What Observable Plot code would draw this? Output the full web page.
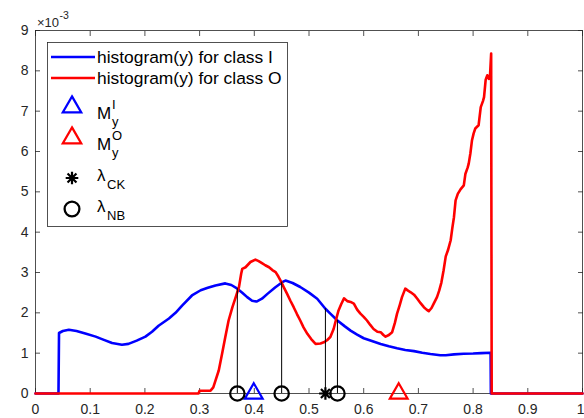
<!DOCTYPE html>
<html>
<head>
<meta charset="utf-8">
<script src="https://cdn.jsdelivr.net/npm/d3@7"></script>
<script src="https://cdn.jsdelivr.net/npm/@observablehq/plot@0.6"></script>
<style>
  html, body { margin: 0; padding: 0; background: white; }
  #chart { width: 584px; height: 418px; }
</style>
</head>
<body>
<div id="chart"></div>
<script>
// ---- data (y in units of 1e-3) ----
const xTicks = [0, 0.1, 0.2, 0.3, 0.4, 0.5, 0.6, 0.7, 0.8, 0.9, 1];
const xTickLabels = ["0", "0.1", "0.2", "0.3", "0.4", "0.5", "0.6", "0.7", "0.8", "0.9", "1"];
const yTicks = [0, 1, 2, 3, 4, 5, 6, 7, 8, 9];
const yTickLabels = ["0", "1", "2", "3", "4", "5", "6", "7", "8", "9"];

const blueX = [0, 0.042, 0.043, 0.05, 0.061, 0.075, 0.091, 0.110, 0.125, 0.140, 0.158, 0.170, 0.185, 0.201, 0.213, 0.225, 0.244, 0.256, 0.268, 0.286, 0.302, 0.315, 0.329, 0.347, 0.358, 0.369, 0.378, 0.387, 0.396, 0.404, 0.414, 0.424, 0.438, 0.451, 0.457, 0.470, 0.484, 0.500, 0.515, 0.530, 0.539, 0.552, 0.565, 0.576, 0.588, 0.600, 0.615, 0.631, 0.646, 0.661, 0.676, 0.692, 0.707, 0.722, 0.740, 0.750, 0.765, 0.783, 0.800, 0.815, 0.832, 0.8325, 1.0];
const blueY = [0, 0, 1.50, 1.55, 1.58, 1.55, 1.49, 1.41, 1.33, 1.25, 1.21, 1.23, 1.31, 1.41, 1.53, 1.68, 1.86, 2.00, 2.18, 2.43, 2.56, 2.62, 2.68, 2.73, 2.69, 2.60, 2.50, 2.39, 2.30, 2.28, 2.35, 2.47, 2.63, 2.76, 2.80, 2.74, 2.64, 2.50, 2.35, 2.10, 1.98, 1.81, 1.67, 1.56, 1.46, 1.37, 1.30, 1.23, 1.17, 1.12, 1.08, 1.05, 1.01, 0.98, 0.95, 0.95, 0.97, 0.985, 0.99, 1.00, 1.01, 0, 0];

const redX = [0, 0.298, 0.300, 0.320, 0.325, 0.329, 0.335, 0.341, 0.347, 0.353, 0.360, 0.366, 0.372, 0.376, 0.378, 0.384, 0.393, 0.402, 0.408, 0.414, 0.420, 0.427, 0.433, 0.439, 0.444, 0.448, 0.454, 0.460, 0.466, 0.472, 0.478, 0.484, 0.490, 0.497, 0.504, 0.512, 0.521, 0.527, 0.533, 0.539, 0.545, 0.549, 0.554, 0.559, 0.564, 0.570, 0.576, 0.582, 0.588, 0.594, 0.600, 0.606, 0.612, 0.618, 0.625, 0.631, 0.636, 0.640, 0.646, 0.652, 0.657, 0.661, 0.666, 0.670, 0.676, 0.681, 0.686, 0.692, 0.698, 0.704, 0.710, 0.715, 0.719, 0.724, 0.728, 0.734, 0.738, 0.742, 0.746, 0.750, 0.754, 0.759, 0.762, 0.765, 0.768, 0.772, 0.777, 0.783, 0.786, 0.790, 0.792, 0.795, 0.798, 0.801, 0.804, 0.810, 0.814, 0.818, 0.820, 0.823, 0.826, 0.829, 0.831, 0.833, 0.834, 1.0];
const redY = [0, 0, 0.07, 0.07, 0.15, 0.32, 0.57, 0.98, 1.40, 1.81, 2.14, 2.39, 2.64, 2.97, 3.09, 3.13, 3.26, 3.32, 3.28, 3.23, 3.18, 3.13, 3.06, 3.01, 2.90, 2.80, 2.63, 2.47, 2.30, 2.14, 1.97, 1.81, 1.64, 1.48, 1.35, 1.23, 1.24, 1.27, 1.32, 1.40, 1.60, 1.81, 2.06, 2.22, 2.36, 2.29, 2.27, 2.23, 2.08, 1.98, 1.90, 1.81, 1.70, 1.60, 1.53, 1.52, 1.45, 1.41, 1.45, 1.52, 1.75, 1.98, 2.20, 2.39, 2.60, 2.55, 2.51, 2.45, 2.35, 2.24, 2.14, 2.08, 2.04, 2.12, 2.23, 2.39, 2.55, 2.75, 3.05, 3.40, 3.55, 3.80, 4.10, 4.37, 4.79, 4.95, 5.06, 5.16, 5.45, 5.60, 5.70, 5.95, 6.28, 6.45, 6.57, 6.65, 7.10, 7.25, 7.35, 7.78, 7.89, 7.80, 7.90, 8.43, 0, 0];

const meanI = [0.399];      // M_y^I
const meanO = [0.664];      // M_y^O
const lambdaCK = [0.530];
const lambdaNB = [0.369, 0.450, 0.552];
const stemX = [0.369, 0.450, 0.530, 0.552];
const stemTop = [2.60, 2.76, 2.10, 1.81];

const legendLabels = ["histogram(y) for class I", "histogram(y) for class O"];

// ---- build tables ----
const blue = blueX.map((x, i) => ({x, y: blueY[i]}));
const red = redX.map((x, i) => ({x, y: redY[i]}));
const stems = stemX.map((x, i) => ({x, top: stemTop[i]}));
const xLab = xTicks.map((x, i) => ({x, t: xTickLabels[i]}));

const asterisk = {
  draw(context, size) {
    const r = Math.sqrt(size / Math.PI);
    const d = r * Math.SQRT1_2;
    context.moveTo(-r, 0); context.lineTo(r, 0);
    context.moveTo(0, -r); context.lineTo(0, r);
    context.moveTo(-d, -d); context.lineTo(d, d);
    context.moveTo(-d, d); context.lineTo(d, -d);
  }
};

const axisColor = "#262626";
const font = "'Liberation Sans', Arial, Helvetica, sans-serif";

const chart = Plot.plot({
  width: 584,
  height: 418,
  marginLeft: 35,
  marginRight: 2,
  marginTop: 30,
  marginBottom: 25,
  style: {fontFamily: font, fontSize: "14px", color: axisColor, background: "white", overflow: "visible"},
  x: {domain: [0, 1], axis: null},
  y: {domain: [0, 9], axis: null},
  marks: [
    Plot.frame({stroke: axisColor, strokeWidth: 0.8}),
    Plot.axisX(xTicks, {anchor: "bottom", tickSize: -5, text: null, label: null, stroke: axisColor, strokeWidth: 0.8}),
    Plot.axisX(xTicks, {anchor: "top", tickSize: -5, text: null, label: null, stroke: axisColor, strokeWidth: 0.8}),
    Plot.axisY(yTicks, {anchor: "left", tickSize: -5, text: null, label: null, stroke: axisColor, strokeWidth: 0.8}),
    Plot.axisY(yTicks, {anchor: "right", tickSize: -5, text: null, label: null, stroke: axisColor, strokeWidth: 0.8}),
    Plot.text(xLab.slice(0, -1), {x: "x", y: 0, text: "t", dy: 16, fill: axisColor, fontSize: 14, textAnchor: "middle"}),
    Plot.text(xLab.slice(-1), {x: "x", y: 0, text: "t", dy: 16, dx: 2, fill: axisColor, fontSize: 14, textAnchor: "end"}),
    Plot.text(yTicks, {x: 0, y: d => d, text: (d, i) => yTickLabels[i], dx: -7, fill: axisColor, fontSize: 14, textAnchor: "end"}),
    Plot.line(blue, {x: "x", y: "y", stroke: "#0000ff", strokeWidth: 2.6}),
    Plot.line(red, {x: "x", y: "y", stroke: "#ff0000", strokeWidth: 2.6}),
    Plot.ruleX(stems, {x: "x", y1: 0, y2: "top", stroke: "black", strokeWidth: 1}),
    Plot.dot(meanI, {x: d => d, y: 0, symbol: "triangle", r: 6.6, stroke: "#0000ff", strokeWidth: 2.2, fill: "none"}),
    Plot.dot(meanO, {x: d => d, y: 0, symbol: "triangle", r: 6.6, stroke: "#ff0000", strokeWidth: 2.2, fill: "none"}),
    Plot.dot(lambdaNB, {x: d => d, y: 0, symbol: "circle", r: 7.2, stroke: "black", strokeWidth: 2.2, fill: "none"}),
    Plot.dot(lambdaCK, {x: d => d, y: 0, symbol: asterisk, r: 6.3, stroke: "black", strokeWidth: 2.2, fill: "none"})
  ]
});

document.getElementById("chart").appendChild(chart);

// ---- exponent label and legend ----
const svg = d3.select(chart);
const ex = svg.append("g").attr("font-family", font).attr("fill", axisColor).attr("text-anchor", "start");
ex.append("text").attr("x", 37).attr("y", 27).attr("font-size", 13).text("\u00d710");
ex.append("text").attr("x", 59.5).attr("y", 19).attr("font-size", 10.5).text("-3");

const lg = svg.append("g").attr("font-family", font).attr("fill", "black").attr("text-anchor", "start");
lg.append("rect").attr("x", 47.5).attr("y", 42.5).attr("width", 240).attr("height", 184)
  .attr("fill", "white").attr("stroke", axisColor).attr("stroke-width", 0.8);
const lineRows = [{y: 57, c: "#0000ff", t: legendLabels[0]}, {y: 78, c: "#ff0000", t: legendLabels[1]}];
lineRows.forEach(r => {
  lg.append("line").attr("x1", 51).attr("x2", 95).attr("y1", r.y).attr("y2", r.y)
    .attr("stroke", r.c).attr("stroke-width", 2.6);
  lg.append("text").attr("x", 97).attr("y", r.y + 6).attr("font-size", 17.4).text(r.t);
});
const tri = d3.symbol(d3.symbolTriangle, 6.8 * 6.8 * Math.PI)();
[{y: 107, c: "#0000ff", sup: "I"}, {y: 138, c: "#ff0000", sup: "O"}].forEach(r => {
  lg.append("path").attr("d", tri).attr("transform", `translate(72,${r.y})`)
    .attr("fill", "none").attr("stroke", r.c).attr("stroke-width", 2.3);
  lg.append("text").attr("x", 97).attr("y", r.y + 12).attr("font-size", 17).text("M");
  lg.append("text").attr("x", 112).attr("y", r.y + 2).attr("font-size", 13).text(r.sup);
  lg.append("text").attr("x", 112).attr("y", r.y + 19).attr("font-size", 13).text("y");
});
const ast = d3.symbol(asterisk, 6.3 * 6.3 * Math.PI)();
lg.append("path").attr("d", ast).attr("transform", "translate(72,178)")
  .attr("fill", "none").attr("stroke", "black").attr("stroke-width", 2.2);
lg.append("text").attr("x", 97).attr("y", 181).attr("font-size", 17).text("\u03bb");
lg.append("text").attr("x", 107).attr("y", 189).attr("font-size", 13).text("CK");
lg.append("circle").attr("cx", 72).attr("cy", 209).attr("r", 7.4)
  .attr("fill", "none").attr("stroke", "black").attr("stroke-width", 2.3);
lg.append("text").attr("x", 97).attr("y", 212).attr("font-size", 17).text("\u03bb");
lg.append("text").attr("x", 107).attr("y", 220).attr("font-size", 13).text("NB");
</script>
</body>
</html>
